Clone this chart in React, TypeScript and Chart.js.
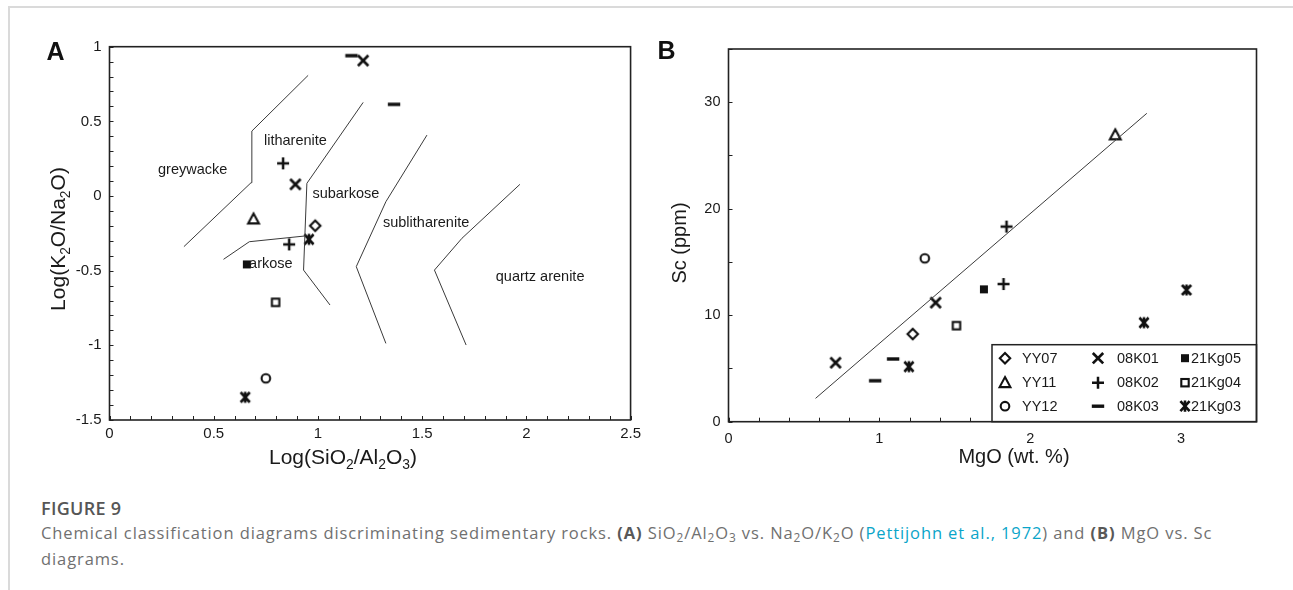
import React, { useEffect, useRef } from "react";
import { Chart, registerables } from "chart.js";
Chart.register(...registerables);

const FONT = '"Liberation Sans", Arial, sans-serif';
const TEXT = "#1a1a1a";
const MARK = "#111111";
const LINE = "#3a3a3a";

// ---- samples and marker styles (shared by both panels)
const SAMPLES = ["YY07", "YY11", "YY12", "08K01", "08K02", "08K03", "21Kg05", "21Kg04", "21Kg03"];
const MARKERS = ["diamond", "triangle", "circle", "x", "plus", "dash", "filledSquare", "openSquare", "asterisk"];

// ---- Panel A: Log(SiO2/Al2O3) vs Log(K2O/Na2O)
const A_YY07 = [[0.987, -0.199]];
const A_YY11 = [[0.691, -0.154]];
const A_YY12 = [[0.75, -1.221]];
const A_08K01 = [[1.217, 0.907], [0.892, 0.078]];
const A_08K02 = [[0.833, 0.219], [0.862, -0.324]];
const A_08K03 = [[1.161, 0.94], [1.365, 0.614]];
const A_21Kg05 = [[0.659, -0.458]];
const A_21Kg04 = [[0.797, -0.712]];
const A_21Kg03 = [[0.957, -0.29], [0.651, -1.348]];
const A_POINTS = [A_YY07, A_YY11, A_YY12, A_08K01, A_08K02, A_08K03, A_21Kg05, A_21Kg04, A_21Kg03];

// field boundaries (Pettijohn et al., 1972)
const A_LINE_1 = [[0.357, -0.339], [0.679, 0.089], [0.683, 0.435], [0.953, 0.808]];
const A_LINE_2 = [[1.217, 0.627], [0.947, 0.085], [0.931, -0.496], [1.058, -0.73]];
const A_LINE_ARKOSE = [[0.547, -0.424], [0.671, -0.306], [0.935, -0.268]];
const A_LINE_3 = [[1.523, 0.408], [1.326, -0.038], [1.184, -0.473], [1.326, -0.987]];
const A_LINE_4 = [[1.969, 0.078], [1.691, -0.283], [1.559, -0.496], [1.711, -0.998]];
const A_LINES = [A_LINE_1, A_LINE_2, A_LINE_ARKOSE, A_LINE_3, A_LINE_4];

const A_FIELD_NAMES = ["greywacke", "litharenite", "subarkose", "sublitharenite", "arkose", "quartz arenite"];
const A_FIELD_POS = [[0.399, 0.174], [0.892, 0.368], [1.134, 0.013], [1.519, -0.183], [0.774, -0.458], [2.066, -0.54]];

const A_X_TICKS = [0, 0.5, 1, 1.5, 2, 2.5];
const A_Y_TICKS = [-1.5, -1, -0.5, 0, 0.5, 1];

// ---- Panel B: MgO vs Sc
const B_YY07 = [[1.221, 8.23]];
const B_YY11 = [[2.564, 26.93]];
const B_YY12 = [[1.301, 15.34]];
const B_08K01 = [[0.71, 5.54], [1.373, 11.18]];
const B_08K02 = [[1.823, 12.93], [1.843, 18.32]];
const B_08K03 = [[0.972, 3.85], [1.091, 5.89]];
const B_21Kg05 = [[1.693, 12.43]];
const B_21Kg04 = [[1.511, 9.02]];
const B_21Kg03 = [[1.196, 5.17], [2.754, 9.3], [3.036, 12.37]];
const B_POINTS = [B_YY07, B_YY11, B_YY12, B_08K01, B_08K02, B_08K03, B_21Kg05, B_21Kg04, B_21Kg03];
const B_TREND = [[0.577, 2.19], [2.773, 28.96]];

const B_X_TICKS = [0, 1, 2, 3];
const B_Y_TICKS = [0, 10, 20, 30];

type Seg = { t: string; sub?: boolean };
const A_X_TITLE: Seg[] = [{ t: "Log(SiO" }, { t: "2", sub: true }, { t: "/Al" }, { t: "2", sub: true }, { t: "O" }, { t: "3", sub: true }, { t: ")" }];
const A_Y_TITLE: Seg[] = [{ t: "Log(K" }, { t: "2", sub: true }, { t: "O/Na" }, { t: "2", sub: true }, { t: "O)" }];
const B_X_TITLE: Seg[] = [{ t: "MgO (wt. %)" }];
const B_Y_TITLE: Seg[] = [{ t: "Sc (ppm)" }];

function drawMarker(ctx: CanvasRenderingContext2D, kind: string, x: number, y: number) {
  ctx.save();
  ctx.strokeStyle = MARK;
  ctx.fillStyle = MARK;
  ctx.lineCap = "butt";
  ctx.lineJoin = "miter";
  ctx.beginPath();
  switch (kind) {
    case "diamond":
      ctx.lineWidth = 2.1;
      ctx.moveTo(x, y - 5.2);
      ctx.lineTo(x + 5.2, y);
      ctx.lineTo(x, y + 5.2);
      ctx.lineTo(x - 5.2, y);
      ctx.closePath();
      ctx.stroke();
      break;
    case "triangle":
      ctx.lineWidth = 2.1;
      ctx.moveTo(x, y - 5.6);
      ctx.lineTo(x + 5.4, y + 4.4);
      ctx.lineTo(x - 5.4, y + 4.4);
      ctx.closePath();
      ctx.stroke();
      break;
    case "circle":
      ctx.lineWidth = 2.1;
      ctx.arc(x, y, 4.3, 0, Math.PI * 2);
      ctx.stroke();
      break;
    case "x":
      ctx.lineWidth = 2.7;
      ctx.moveTo(x - 5.2, y - 5.2);
      ctx.lineTo(x + 5.2, y + 5.2);
      ctx.moveTo(x + 5.2, y - 5.2);
      ctx.lineTo(x - 5.2, y + 5.2);
      ctx.stroke();
      break;
    case "plus":
      ctx.lineWidth = 2.5;
      ctx.moveTo(x - 6, y);
      ctx.lineTo(x + 6, y);
      ctx.moveTo(x, y - 6);
      ctx.lineTo(x, y + 6);
      ctx.stroke();
      break;
    case "dash":
      ctx.fillRect(x - 6.2, y - 1.7, 12.4, 3.4);
      break;
    case "filledSquare":
      ctx.fillRect(x - 4, y - 4, 8, 8);
      break;
    case "openSquare":
      ctx.lineWidth = 2.1;
      ctx.strokeRect(x - 3.7, y - 3.7, 7.4, 7.4);
      break;
    case "asterisk":
      ctx.lineWidth = 2.6;
      ctx.moveTo(x - 4.6, y - 5);
      ctx.lineTo(x + 4.6, y + 5);
      ctx.moveTo(x + 4.6, y - 5);
      ctx.lineTo(x - 4.6, y + 5);
      ctx.moveTo(x, y - 5.6);
      ctx.lineTo(x, y + 5.6);
      ctx.stroke();
      break;
  }
  ctx.restore();
}

function markerCanvas(kind: string): HTMLCanvasElement {
  const c = document.createElement("canvas");
  c.width = 20;
  c.height = 20;
  const ctx = c.getContext("2d")!;
  drawMarker(ctx, kind, 10, 10);
  return c;
}

function drawRich(ctx: CanvasRenderingContext2D, segs: Seg[], cx: number, cy: number, size: number, rotate: boolean) {
  ctx.save();
  ctx.translate(cx, cy);
  if (rotate) ctx.rotate(-Math.PI / 2);
  const subSize = size * 0.66;
  const widths = segs.map((s) => {
    ctx.font = `${s.sub ? subSize : size}px ${FONT}`;
    return ctx.measureText(s.t).width;
  });
  const total = widths.reduce((a, b) => a + b, 0);
  let x = -total / 2;
  ctx.fillStyle = TEXT;
  ctx.textBaseline = "alphabetic";
  ctx.textAlign = "left";
  segs.forEach((s, i) => {
    ctx.font = `${s.sub ? subSize : size}px ${FONT}`;
    ctx.fillText(s.t, x, s.sub ? size * 0.36 + size * 0.24 : size * 0.36);
    x += widths[i];
  });
  ctx.restore();
}

type Decor = {
  xMinor: number[];
  yMinor: number[];
  xTitle: Seg[];
  xTitlePos: [number, number];
  yTitle: Seg[];
  yTitlePos: [number, number];
  titleSize: number;
  fields?: { names: string[]; pos: number[][] };
  legend?: boolean;
};

function decorPlugin(d: Decor) {
  return {
    id: "decor",
    afterDraw(chart: any) {
      const ctx: CanvasRenderingContext2D = chart.ctx;
      const area = chart.chartArea;
      const xs = chart.scales.x;
      const ys = chart.scales.y;
      ctx.save();
      // field labels
      if (d.fields) {
        ctx.font = `14.5px ${FONT}`;
        ctx.fillStyle = TEXT;
        ctx.textAlign = "center";
        ctx.textBaseline = "middle";
        d.fields.names.forEach((n, i) => {
          ctx.fillText(n, xs.getPixelForValue(d.fields!.pos[i][0]), ys.getPixelForValue(d.fields!.pos[i][1]));
        });
      }
      // inward minor ticks
      ctx.strokeStyle = "#222";
      ctx.lineWidth = 1;
      ctx.beginPath();
      d.xMinor.forEach((v) => {
        const px = Math.round(xs.getPixelForValue(v)) + 0.5;
        ctx.moveTo(px, area.bottom);
        ctx.lineTo(px, area.bottom - 4);
      });
      d.yMinor.forEach((v) => {
        const py = Math.round(ys.getPixelForValue(v)) + 0.5;
        ctx.moveTo(area.left, py);
        ctx.lineTo(area.left + 4, py);
      });
      ctx.stroke();
      // legend
      if (d.legend) {
        const bw = 264.5;
        const bh = 77;
        const bx = area.right - bw;
        const by = area.bottom - bh;
        ctx.fillStyle = "#fff";
        ctx.fillRect(bx, by, bw, bh);
        ctx.strokeStyle = "#222";
        ctx.lineWidth = 1.5;
        ctx.strokeRect(bx, by, bw, bh);
        const colM = [13, 106, 193];
        const colT = [30, 125, 199];
        const rowY = [13.5, 38, 61.5];
        ctx.font = `14.5px ${FONT}`;
        ctx.textAlign = "left";
        ctx.textBaseline = "middle";
        SAMPLES.forEach((s, i) => {
          const c = Math.floor(i / 3);
          const r = i % 3;
          drawMarker(ctx, MARKERS[i], bx + colM[c], by + rowY[r]);
          ctx.fillStyle = TEXT;
          ctx.fillText(s, bx + colT[c], by + rowY[r] + 0.5);
        });
      }
      // frame
      ctx.strokeStyle = "#222";
      ctx.lineWidth = 1.6;
      ctx.strokeRect(area.left, area.top, area.right - area.left, area.bottom - area.top);
      // axis titles
      drawRich(ctx, d.xTitle, d.xTitlePos[0], d.xTitlePos[1], d.titleSize, false);
      drawRich(ctx, d.yTitle, d.yTitlePos[0], d.yTitlePos[1], d.titleSize, true);
      ctx.restore();
    },
  };
}

function range(n: number, step: number, start = 0) {
  const out: number[] = [];
  for (let i = 0; i <= n; i++) out.push(Math.round((start + i * step) * 1000) / 1000);
  return out;
}

function axisCfg(min: number, max: number, step: number, ticks: number[], size: number, padding: number, horizontal: boolean, fontSize: number) {
  return {
    type: "linear",
    min,
    max,
    grid: { display: false, drawTicks: false },
    border: { display: false },
    afterFit(scale: any) {
      if (horizontal) scale.height = size;
      else scale.width = size;
    },
    afterBuildTicks(scale: any) {
      scale.ticks = ticks.map((v) => ({ value: v }));
    },
    ticks: {
      stepSize: step,
      padding,
      color: TEXT,
      font: { family: FONT, size: fontSize },
      maxRotation: 0,
      autoSkip: false,
      callback: (v: number) => String(v),
    },
  };
}

function baseOptions(pad: any, x: any, y: any) {
  return {
    animation: false,
    responsive: false,
    events: [],
    layout: { padding: pad },
    plugins: { legend: { display: false }, tooltip: { enabled: false } },
    scales: { x, y },
  };
}

function pts(arr: number[][]) {
  return arr.map((p) => ({ x: p[0], y: p[1] }));
}

export default function App() {
  const refA = useRef<HTMLCanvasElement>(null);
  const refB = useRef<HTMLCanvasElement>(null);

  useEffect(() => {
    const icons = MARKERS.map(markerCanvas);
    const lineDs = (data: number[][]) => ({
      data: pts(data),
      showLine: true,
      borderColor: LINE,
      borderWidth: 1,
      pointRadius: 0,
      fill: false,
      tension: 0,
    });
    const markDs = (data: number[][], i: number) => ({
      label: SAMPLES[i],
      data: pts(data),
      showLine: false,
      pointStyle: icons[i],
      pointRadius: 6,
      backgroundColor: MARK,
      borderColor: MARK,
    });

    const chartA = new Chart(refA.current!, {
      type: "scatter",
      data: { datasets: [...A_LINES.map(lineDs), ...A_POINTS.map(markDs)] as any },
      options: baseOptions(
        { left: 0, right: 11.5, top: 46.7, bottom: 0 },
        axisCfg(0, 2.5, 0.5, A_X_TICKS, 60, 5, true, 15),
        axisCfg(-1.5, 1, 0.5, A_Y_TICKS, 109.5, 8, false, 15)
      ) as any,
      plugins: [
        decorPlugin({
          xMinor: range(25, 0.1),
          yMinor: range(25, 0.1, -1.5),
          xTitle: A_X_TITLE,
          xTitlePos: [343, 456],
          yTitle: A_Y_TITLE,
          yTitlePos: [57, 239],
          titleSize: 21,
          fields: { names: A_FIELD_NAMES, pos: A_FIELD_POS },
        }),
      ],
    });

    const chartB = new Chart(refB.current!, {
      type: "scatter",
      data: { datasets: [lineDs(B_TREND), ...B_POINTS.map(markDs)] as any },
      options: baseOptions(
        { left: 0, right: 36.5, top: 49, bottom: 0 },
        axisCfg(0, 3.5, 1, B_X_TICKS, 58.3, 9, true, 14.5),
        axisCfg(0, 35, 10, B_Y_TICKS, 82.5, 8, false, 14.5)
      ) as any,
      plugins: [
        decorPlugin({
          xMinor: range(17, 0.2),
          yMinor: range(7, 5),
          xTitle: B_X_TITLE,
          xTitlePos: [368, 456],
          yTitle: B_Y_TITLE,
          yTitlePos: [32.5, 243],
          titleSize: 20,
          legend: true,
        }),
      ],
    });

    return () => {
      chartA.destroy();
      chartB.destroy();
    };
  }, []);

  const subStyle: React.CSSProperties = { fontSize: "0.72em", position: "relative", top: "0.32em", lineHeight: 0 };

  return (
    <div style={{ position: "absolute", left: 0, top: 0, width: 1293, height: 590, overflow: "hidden", background: "#fff" }}>
      <div
        style={{
          position: "absolute",
          left: 8,
          top: 6,
          width: 1300,
          height: 620,
          borderTop: "2px solid #dadada",
          borderLeft: "2px solid #dadada",
        }}
      />
      <canvas ref={refA} width={646} height={480} style={{ position: "absolute", left: 0, top: 0, width: 646, height: 480 }} />
      <canvas ref={refB} width={647} height={480} style={{ position: "absolute", left: 646, top: 0, width: 647, height: 480 }} />
      <div style={{ position: "absolute", left: 46.5, top: 39.4, font: `bold 25px ${FONT}`, lineHeight: "25px", color: "#111" }}>A</div>
      <div style={{ position: "absolute", left: 657.5, top: 38.4, font: `bold 25px ${FONT}`, lineHeight: "25px", color: "#111" }}>B</div>
      <div
        style={{
          position: "absolute",
          left: 41,
          top: 497,
          fontFamily: '"Open Sans", sans-serif',
          fontWeight: 600,
          fontSize: 18,
          lineHeight: "22px",
          color: "#565656",
          letterSpacing: "0.3px",
          whiteSpace: "nowrap",
        }}
      >
        FIGURE 9
      </div>
      <div
        style={{
          position: "absolute",
          left: 41,
          top: 519.5,
          fontFamily: '"Open Sans", sans-serif',
          fontSize: 16.5,
          lineHeight: "26.7px",
          letterSpacing: "0.9px",
          color: "#707070",
          whiteSpace: "nowrap",
        }}
      >
        Chemical classification diagrams discriminating sedimentary rocks. <b style={{ fontWeight: 700, color: "#585858" }}>(A)</b> SiO
        <span style={subStyle}>2</span>/Al<span style={subStyle}>2</span>O<span style={subStyle}>3</span> vs. Na
        <span style={subStyle}>2</span>O/K<span style={subStyle}>2</span>O (
        <span style={{ color: "#0aa5c9" }}>Pettijohn et al., 1972</span>) and <b style={{ fontWeight: 700, color: "#585858" }}>(B)</b> MgO vs. Sc
        <br />
        diagrams.
      </div>
    </div>
  );
}
